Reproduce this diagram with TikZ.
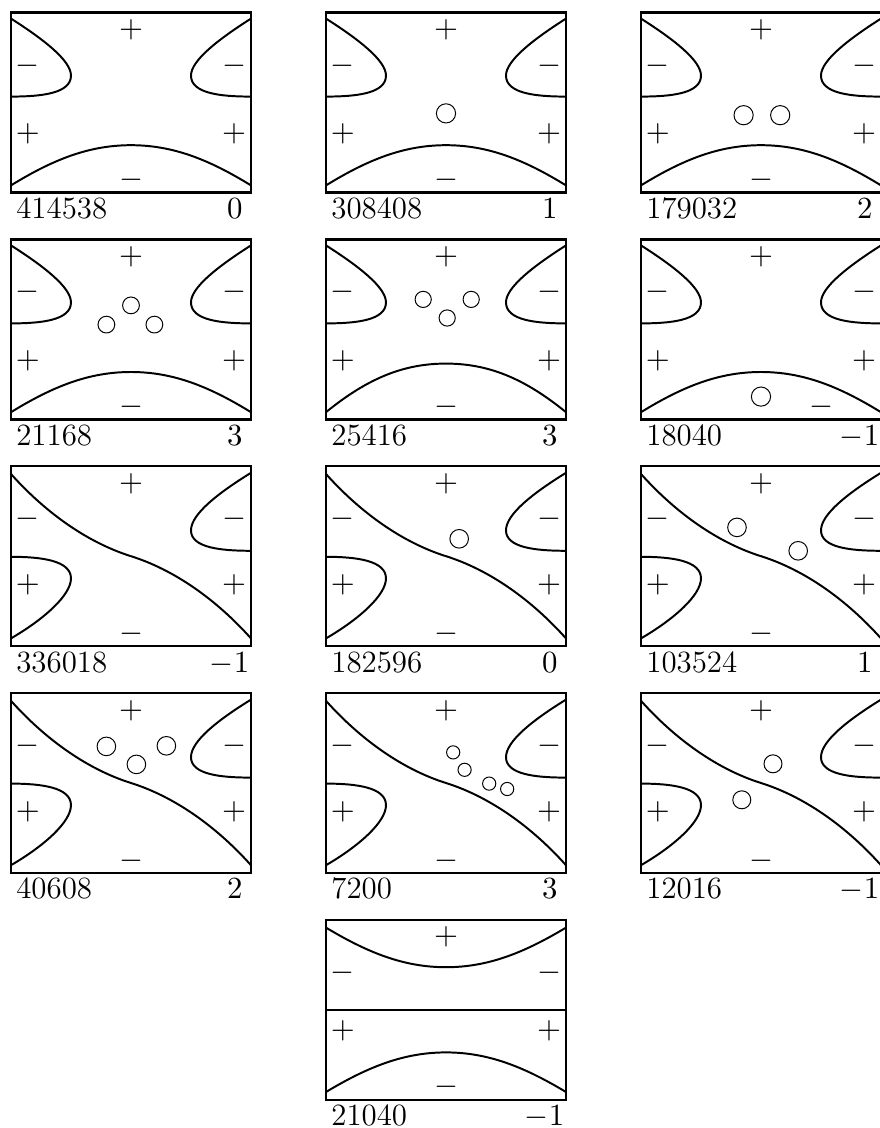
\documentclass[tikz,border=0pt]{standalone}
\usepackage{amsmath}
\usepackage{amssymb}
\usepackage{tikz}
\usetikzlibrary{positioning}

\tikzset{
  frame/.style={line width=0.9pt},
  curve/.style={line width=0.7pt},
  hole/.style={line width=0.35pt},
  sgn/.style={inner sep=0pt, font=\fontsize{11}{13}\selectfont},
  lbl/.style={inner sep=0pt, font=\fontsize{11}{13}\selectfont},
}

% box with its two numbers
\newcommand{\tile}[3]{%
  \draw[frame] (0,0) rectangle (4,3);
  \node[lbl, anchor=base west] (#1-count) at (0.08,-0.43) {#2};
  \ifnum#3<0
    \node[lbl, anchor=base east] (#1-index) at (3.98,-0.43) {$#3$};
  \else
    \node[lbl, anchor=base east] (#1-index) at (3.87,-0.43) {$#3$};
  \fi
}

% sign of each region
\newcommand{\signs}[3]{%
  \node[sgn] (#1-t) at (2,2.71) {$+$};
  \node[sgn] (#1-ul) at (0.28,2.12) {$-$};
  \node[sgn] (#1-ur) at (3.72,2.12) {$-$};
  \node[sgn] (#1-ll) at (0.28,#2) {$+$};
  \node[sgn] (#1-lr) at (3.72,#2) {$+$};
  \node[sgn] (#1-b) at (#3,0.21) {$-$};
}

% two lobes on top, arch below
\newcommand{\ovalsA}[1]{%
  \draw[curve] (0,2.9) .. controls (0.55,2.55) and (1,2.2) .. (1,1.95)
     .. controls (1,1.65) and (0.5,1.6) .. (0,1.6);
  \draw[curve] (4,2.9) .. controls (3.45,2.55) and (3,2.2) .. (3,1.95)
     .. controls (3,1.65) and (3.5,1.6) .. (4,1.6);
  \draw[curve] (0,0.12) .. controls (0.7,#1-0.24) and (1.3,#1) .. (2,#1)
     .. controls (2.7,#1) and (3.3,#1-0.24) .. (4,0.12);
}

% diagonal branch with two lobes
\newcommand{\ovalsB}{%
  \draw[curve] (0,2.87) .. controls (0.6,2.2) and (1.3,1.72) .. (2,1.5)
     .. controls (2.7,1.28) and (3.4,0.8) .. (4,0.13);
  \draw[curve] (4,2.89) .. controls (3.45,2.55) and (3,2.2) .. (3,1.93)
     .. controls (3,1.64) and (3.5,1.59) .. (4,1.59);
  \draw[curve] (0,0.13) .. controls (0.55,0.45) and (1,0.85) .. (1,1.13)
     .. controls (1,1.43) and (0.5,1.49) .. (0,1.49);
}

% two arches and a line
\newcommand{\ovalsC}{%
  \draw[curve] (0,2.87) .. controls (0.7,2.45) and (1.3,2.21) .. (2,2.21)
     .. controls (2.7,2.21) and (3.3,2.45) .. (4,2.87);
  \draw[curve] (0,1.5) -- (4,1.5);
  \draw[curve] (0,0.13) .. controls (0.7,0.55) and (1.3,0.79) .. (2,0.79)
     .. controls (2.7,0.79) and (3.3,0.55) .. (4,0.13);
}

\begin{document}
\begin{tikzpicture}[x=0.75cm, y=0.75cm]
  \useasboundingbox (0,0) rectangle (14.65,-18.8);

  % first row
  \begin{scope}[shift={(0.183,-3.21)}]
    \ovalsA{0.79} \signs{p1}{0.98}{2}
    \tile{p1}{414538}{0}
  \end{scope}
  \begin{scope}[shift={(5.433,-3.21)}]
    \ovalsA{0.79} \signs{p2}{0.98}{2}
    \draw[hole] (2,1.32) circle (0.16);
    \tile{p2}{308408}{1}
  \end{scope}
  \begin{scope}[shift={(10.683,-3.21)}]
    \ovalsA{0.79} \signs{p3}{0.98}{2}
    \draw[hole] (1.71,1.29) circle (0.16);
    \draw[hole] (2.32,1.29) circle (0.16);
    \tile{p3}{179032}{2}
  \end{scope}

  % second row
  \begin{scope}[shift={(0.183,-6.99)}]
    \ovalsA{0.79} \signs{p4}{0.98}{2}
    \draw[hole] (2,1.9) circle (0.14);
    \draw[hole] (1.59,1.58) circle (0.14);
    \draw[hole] (2.39,1.58) circle (0.14);
    \tile{p4}{21168}{3}
  \end{scope}
  \begin{scope}[shift={(5.433,-6.99)}]
    \ovalsA{0.93} \signs{p5}{0.98}{2}
    \draw[hole] (1.62,2) circle (0.135);
    \draw[hole] (2.42,2) circle (0.135);
    \draw[hole] (2.02,1.69) circle (0.135);
    \tile{p5}{25416}{3}
  \end{scope}
  \begin{scope}[shift={(10.683,-6.99)}]
    \ovalsA{0.79} \signs{p6}{0.98}{3}
    \draw[hole] (2,0.38) circle (0.16);
    \tile{p6}{18040}{-1}
  \end{scope}

  % third row
  \begin{scope}[shift={(0.183,-10.77)}]
    \ovalsB \signs{p7}{1.02}{2}
    \tile{p7}{336018}{-1}
  \end{scope}
  \begin{scope}[shift={(5.433,-10.77)}]
    \ovalsB \signs{p8}{1.02}{2}
    \draw[hole] (2.22,1.79) circle (0.155);
    \tile{p8}{182596}{0}
  \end{scope}
  \begin{scope}[shift={(10.683,-10.77)}]
    \ovalsB \signs{p9}{1.02}{2}
    \draw[hole] (1.6,1.98) circle (0.155);
    \draw[hole] (2.62,1.59) circle (0.155);
    \tile{p9}{103524}{1}
  \end{scope}

  % fourth row
  \begin{scope}[shift={(0.183,-14.55)}]
    \ovalsB \signs{p10}{1.02}{2}
    \draw[hole] (1.59,2.11) circle (0.155);
    \draw[hole] (2.09,1.81) circle (0.155);
    \draw[hole] (2.59,2.12) circle (0.155);
    \tile{p10}{40608}{2}
  \end{scope}
  \begin{scope}[shift={(5.433,-14.55)}]
    \ovalsB \signs{p11}{1.02}{2}
    \draw[hole] (2.12,2.01) circle (0.11);
    \draw[hole] (2.31,1.72) circle (0.11);
    \draw[hole] (2.72,1.49) circle (0.11);
    \draw[hole] (3.02,1.4) circle (0.11);
    \tile{p11}{7200}{3}
  \end{scope}
  \begin{scope}[shift={(10.683,-14.55)}]
    \ovalsB \signs{p12}{1.02}{2}
    \draw[hole] (2.2,1.82) circle (0.15);
    \draw[hole] (1.68,1.22) circle (0.15);
    \tile{p12}{12016}{-1}
  \end{scope}

  % last row
  \begin{scope}[shift={(5.433,-18.33)}]
    \ovalsC \signs{p13}{1.15}{2}
    \tile{p13}{21040}{-1}
  \end{scope}
\end{tikzpicture}
\end{document}
